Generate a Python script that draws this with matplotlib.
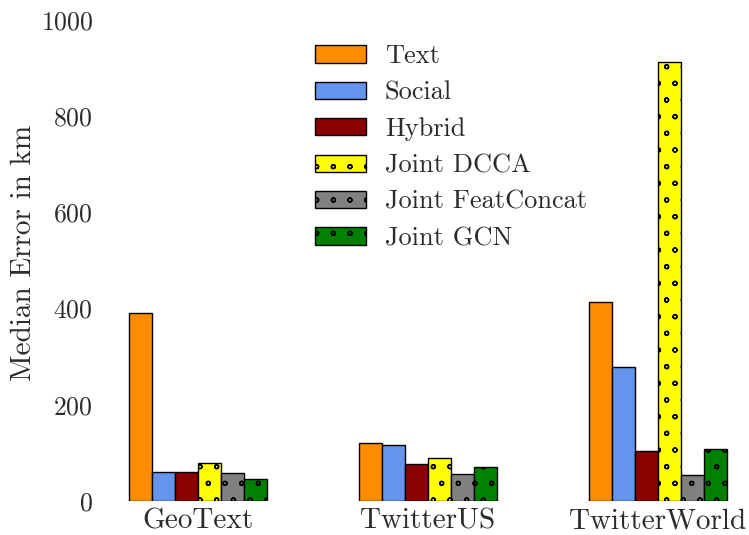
import matplotlib
matplotlib.use("Agg")
import matplotlib.pyplot as plt
import matplotlib.hatch as mhatch
import numpy as np

plt.rcParams['font.family'] = ['cmr10', 'DejaVu Serif']
plt.rcParams['axes.formatter.use_mathtext'] = True
plt.rcParams['hatch.linewidth'] = 1.0
mhatch.SmallCircles.size = 0.12

datasets = ["GeoText", "TwitterUS", "TwitterWorld"]
methods = ["Text", "Social", "Hybrid", "Joint DCCA", "Joint FeatConcat", "Joint GCN"]
text_vals = [390, 120, 414]
social_vals = [60, 116, 279]
hybrid_vals = [61, 77, 104]
dcca_vals = [79, 89, 913]
featconcat_vals = [58, 56, 54]
gcn_vals = [46, 70, 108]
series = [text_vals, social_vals, hybrid_vals, dcca_vals, featconcat_vals, gcn_vals]
colors = ["#FF8C00", "#6495ED", "#8B0000", "#FFFF00", "#808080", "#008000"]
hatches = [None, None, None, "o", "o", "o"]
yticks = [0, 200, 400, 600, 800, 1000]

tc = "#2b2b2b"
fig = plt.figure(figsize=(7.49, 5.35), dpi=100)
ax = fig.add_axes([100/749, 34/535, 640/749, 481/535])
x = np.arange(len(datasets))
w = 0.1
for i, (vals, c, h, lab) in enumerate(zip(series, colors, hatches, methods)):
    ax.bar(x + (i - 2.5) * w, vals, w, color=c, edgecolor="black", linewidth=1.0,
           hatch=h, label=lab)

ax.set_xlim(-0.426, 2.357)
ax.set_ylim(0, 1000)
ax.set_yticks(yticks)
ax.set_xticks(x)
ax.set_xticklabels(datasets)
ax.tick_params(axis='y', length=0, pad=5, labelsize=18.5, labelcolor=tc)
ax.tick_params(axis='x', length=0, pad=5.5, labelsize=21, labelcolor=tc)
for s in ax.spines.values():
    s.set_visible(False)
ax.set_ylabel("Median Error in km", fontsize=21, color=tc)
ax.yaxis.set_label_coords(-0.098, 0.5156)

leg = ax.legend(loc="upper left", bbox_to_anchor=(0.307, 0.9875), frameon=False,
                fontsize=19, handlelength=1.93, handleheight=0.63,
                labelspacing=0.48, handletextpad=0.72, borderaxespad=0.3)
for t in leg.get_texts():
    t.set_color(tc)

fig.savefig("out.png", dpi=100)
